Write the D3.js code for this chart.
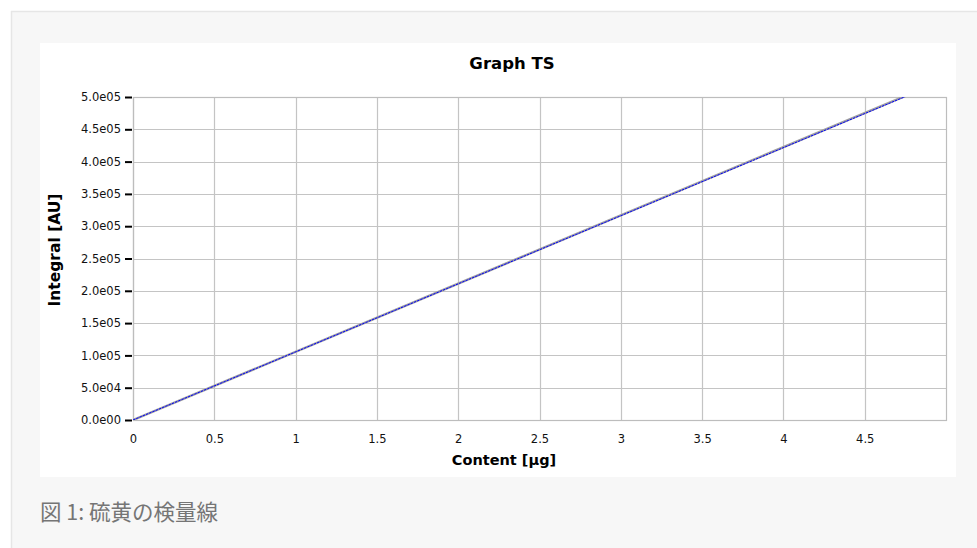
<!DOCTYPE html>
<html><head><meta charset="utf-8">
<script src="https://cdn.jsdelivr.net/npm/d3@7"></script>
<style>
html,body{margin:0;padding:0;background:#fff;}
svg{display:block;}
</style></head>
<body>
<svg id="chart" width="977" height="548"></svg>
<script>
// ---- data ----
const chartTitle = "Graph TS";
const xLabel = "Content [µg]";
const yLabel = "Integral [AU]";
const caption = "図 1: 硫黄の検量線";
const xTicks = [0, 0.5, 1, 1.5, 2, 2.5, 3, 3.5, 4, 4.5];
const yTicks = [0, 50000, 100000, 150000, 200000, 250000, 300000, 350000, 400000, 450000, 500000];
const contents = [0, 5];
const integralMeasured = [0, 528000];
const integralFit = [0, 527000];

// ---- layout ----
const svg = d3.select("#chart");
const W = 977, H = 548;
const plot = {left: 133, right: 946, top: 97, bottom: 420};

// page background panel
svg.append("rect").attr("x",0).attr("y",0).attr("width",W).attr("height",H).attr("fill","#ffffff");
svg.append("rect").attr("x",11).attr("y",11).attr("width",W-11).attr("height",H-11).attr("fill","#f7f7f7");
svg.append("line").attr("x1",11).attr("x2",W).attr("y1",11.5).attr("y2",11.5).attr("stroke","#e6e6e6").attr("stroke-width",1.5);
svg.append("line").attr("x1",11.5).attr("x2",11.5).attr("y1",11).attr("y2",H).attr("stroke","#e6e6e6").attr("stroke-width",1.5);
// white chart box
svg.append("rect").attr("x",40).attr("y",43).attr("width",916).attr("height",434).attr("fill","#ffffff");

const x = d3.scaleLinear().domain([0,5]).range([plot.left, plot.right]);
const y = d3.scaleLinear().domain([0,500000]).range([plot.bottom, plot.top]);

const fmtY = v => {
  const s = v.toExponential(1); // e.g. 5.0e+5
  const [m, e] = s.split("e");
  const n = Math.abs(parseInt(e,10));
  return m + "e" + (n < 10 ? "0" + n : "" + n);
};

// grid
const g = svg.append("g");
g.selectAll(".vg").data(xTicks).enter().append("line")
  .attr("x1", d => Math.round(x(d))+0.5).attr("x2", d => Math.round(x(d))+0.5)
  .attr("y1", plot.top).attr("y2", plot.bottom)
  .attr("stroke","#c4c4c4").attr("stroke-width",1.2);
g.selectAll(".hg").data(yTicks).enter().append("line")
  .attr("x1", plot.left).attr("x2", plot.right)
  .attr("y1", d => Math.round(y(d))+0.5).attr("y2", d => Math.round(y(d))+0.5)
  .attr("stroke","#c4c4c4").attr("stroke-width",1.2);
// plot border
g.append("rect").attr("x",plot.left+0.5).attr("y",plot.top+0.5)
  .attr("width",plot.right-plot.left).attr("height",plot.bottom-plot.top)
  .attr("fill","none").attr("stroke","#bdbdbd").attr("stroke-width",1.2);

// y axis
const yAxis = d3.axisLeft(y).tickValues(yTicks).tickFormat(fmtY).tickSize(7).tickPadding(4);
const ya = svg.append("g").attr("transform",`translate(${plot.left-1},0)`).call(yAxis);
ya.select(".domain").remove();
ya.selectAll(".tick line").attr("stroke","#000").attr("stroke-width",2);
ya.selectAll(".tick text").attr("font-family","DejaVu Sans, Verdana, sans-serif").attr("font-size","11.5px").attr("fill","#111");

// x axis
const xAxis = d3.axisBottom(x).tickValues(xTicks).tickFormat(d => String(d)).tickSize(0).tickPadding(15);
const xa = svg.append("g").attr("transform",`translate(0,${plot.bottom})`).call(xAxis);
xa.select(".domain").remove();
xa.selectAll(".tick text").attr("font-family","DejaVu Sans, Verdana, sans-serif").attr("font-size","11.5px").attr("fill","#111");

// lines
svg.append("clipPath").attr("id","clip").append("rect")
  .attr("x",plot.left).attr("y",plot.top).attr("width",plot.right-plot.left).attr("height",plot.bottom-plot.top);
const lineM = d3.line().x((d,i) => x(contents[i])).y(d => y(d));
svg.append("path").datum(integralMeasured).attr("clip-path","url(#clip)")
  .attr("d", lineM).attr("fill","none").attr("stroke","#a0a0a0").attr("stroke-width",2.4);
svg.append("path").datum(integralFit).attr("clip-path","url(#clip)")
  .attr("d", lineM).attr("fill","none").attr("stroke","#0000ff").attr("stroke-width",1)
  .attr("stroke-dasharray","2.5,1");

// title and labels
svg.append("text").attr("x",512).attr("y",69).attr("text-anchor","middle")
  .attr("font-family","DejaVu Sans, Verdana, sans-serif").attr("font-weight","bold").attr("font-size","16.5px").attr("fill","#000")
  .text(chartTitle);
svg.append("text").attr("x",504).attr("y",465).attr("text-anchor","middle")
  .attr("font-family","DejaVu Sans, Verdana, sans-serif").attr("font-weight","bold").attr("font-size","14.5px").attr("fill","#000")
  .text(xLabel);
svg.append("text").attr("transform","translate(60,250) rotate(-90)").attr("text-anchor","middle")
  .attr("font-family","DejaVu Sans, Verdana, sans-serif").attr("font-weight","bold").attr("font-size","15.5px").attr("fill","#000")
  .text(yLabel);

// caption
svg.append("text").attr("x",40).attr("y",520)
  .attr("font-family","Noto Sans CJK JP, Noto Sans, sans-serif").attr("font-size","21.5px").attr("fill","#757575")
  .text(caption);
</script>
</body></html>
